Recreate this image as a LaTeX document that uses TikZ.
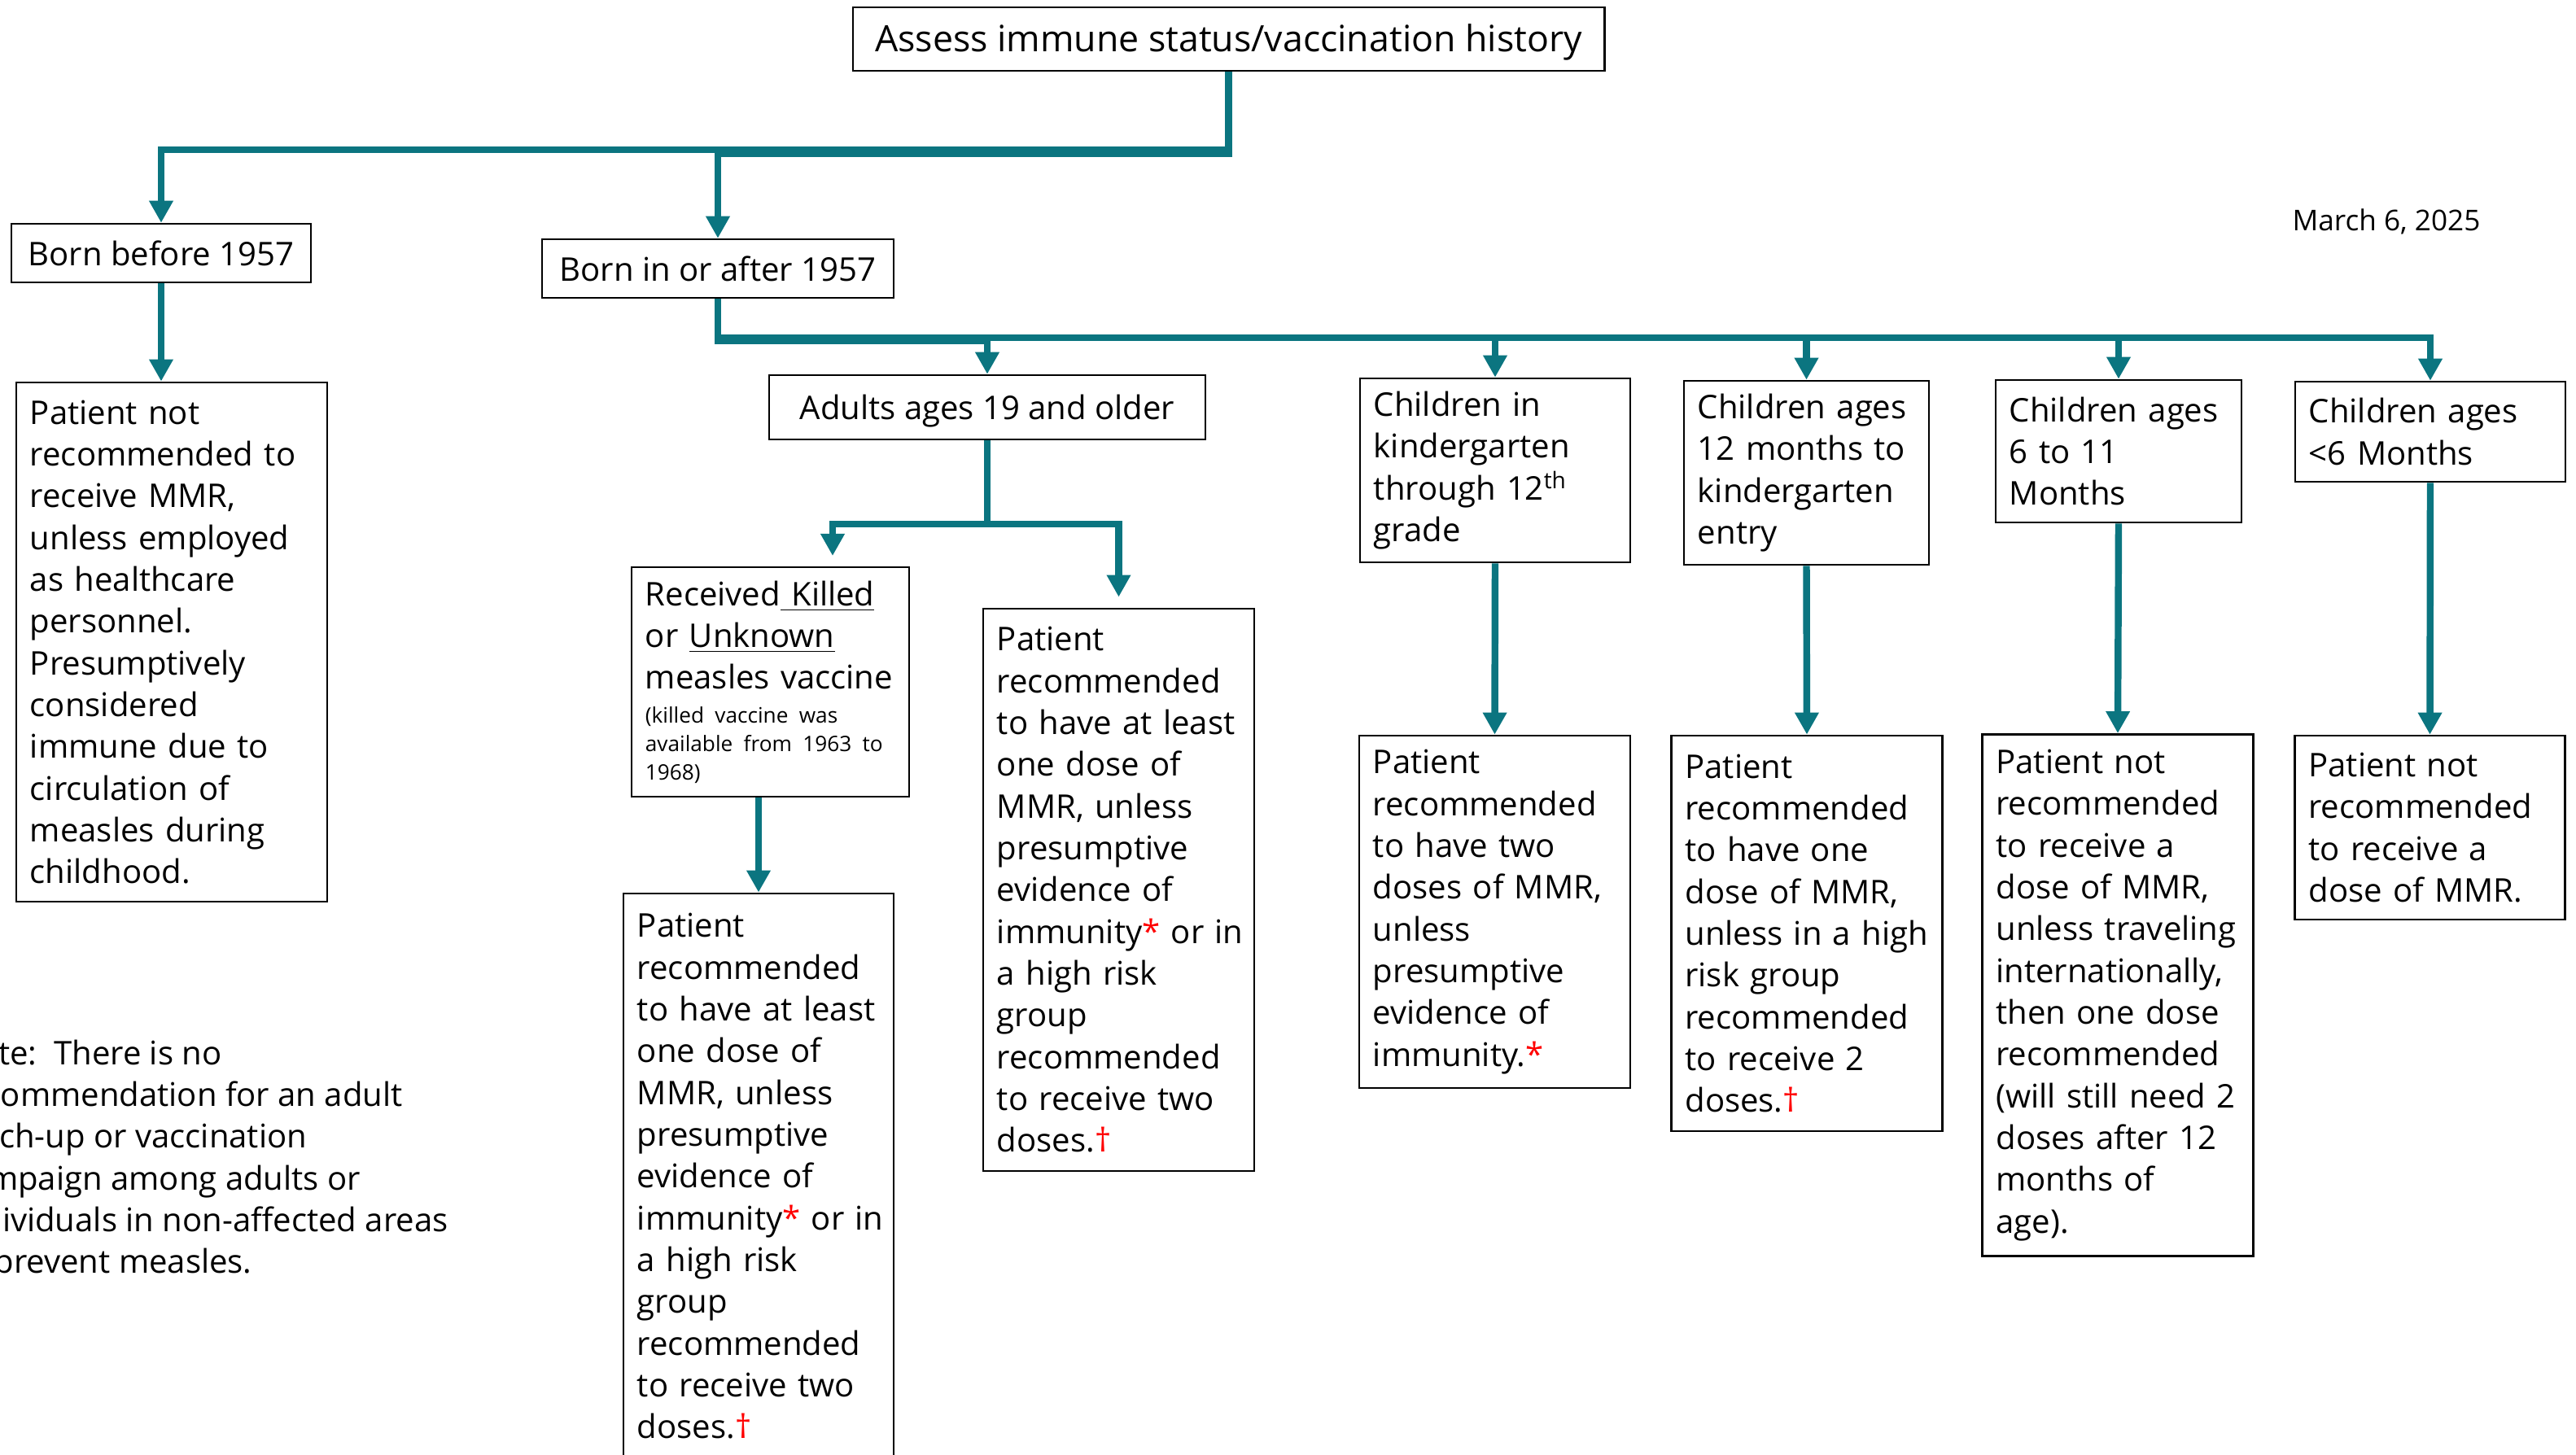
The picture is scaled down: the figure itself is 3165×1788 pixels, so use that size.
\documentclass[tikz,border=0pt]{standalone}
\usepackage{fontspec}
\setmainfont{Open Sans}
\usetikzlibrary{arrows.meta}
\definecolor{conncol}{RGB}{11,117,128}

\begin{document}
\begin{tikzpicture}[x=0.01cm, y=-0.01cm]
		\tikzset{bx/.style={draw=black, line width=0.7pt, inner xsep=0.17cm, inner ysep=0pt, align=left, font=\fontsize{11.4}{14.6}\selectfont},
			hd/.style={bx, align=center, text height=0.86em, text depth=0pt},
			conn/.style={draw=conncol, line width=2.4pt, -{Triangle[length=0.27cm, width=0.28cm]}}}

		\useasboundingbox (0,0) rectangle (3165,1788);
		\clip (0,0) rectangle (3165,1788);

		\node[hd, minimum width=9.23cm, minimum height=0.78cm, font=\fontsize{12.7}{15}\selectfont] (assess) at (1509.5, 48) {Assess immune status/vaccination history};
		\node[hd, minimum width=3.68cm, minimum height=0.72cm] (before57) at (198, 311) {Born before 1957};
		\node[hd, minimum width=4.32cm, minimum height=0.72cm] (after57) at (882, 330) {Born in or after 1957};
		\node[hd, minimum width=5.36cm, minimum height=0.79cm] (adults) at (1213, 500.5) {Adults ages 19 and older};

		\node[bx, text width=3.48cm, minimum height=6.38cm] (notbefore) at (211, 789) {Patient not\\ recommended to\\ receive MMR,\\ unless employed\\ as healthcare\\ personnel.\\ Presumptively\\ considered\\ immune due to\\ circulation of\\ measles during\\ childhood.};
		\node[bx, text width=3.07cm, minimum height=2.82cm] (killed) at (946.5, 838) {Received\underline{\ Killed}\\ or \underline{Unknown}\\ measles vaccine\par\vspace{2pt}{\raggedright\fontsize{7.45}{9.9}\selectfont (killed vaccine was\\ available from 1963 to\\ 1968)\par}};
		\node[bx, text width=2.99cm, minimum height=6.91cm] (adultone) at (1374.5, 1093.5) {Patient\\ recommended\\ to have at least\\ one dose of\\ MMR, unless\\ presumptive\\ evidence of\\ immunity\textcolor{red}{*}~or~in\\ a high risk\\ group\\ recommended\\ to receive two\\ doses.\textcolor{red}{†}};
		\node[bx, text width=2.98cm, minimum height=6.95cm] (killedrec) at (932, 1445.5) {Patient\\ recommended\\ to have at least\\ one dose of\\ MMR, unless\\ presumptive\\ evidence of\\ immunity\textcolor{red}{*}~or~in\\ a high risk\\ group\\ recommended\\ to receive two\\ doses.\textcolor{red}{†}};

		\node[bx, text width=2.98cm, minimum height=2.26cm] (kinder) at (1837, 578) {Children in\\ kindergarten\\ through 12\textsuperscript{th}\\ grade};
		\node[bx, text width=2.67cm, minimum height=2.26cm] (twelve) at (2219.5, 581) {Children ages\\ 12 months to\\ kindergarten\\ entry};
		\node[bx, text width=2.68cm, minimum height=1.75cm] (sixeleven) at (2603, 554.5) {Children ages\\ 6 to 11\\ Months};
		\node[bx, text width=2.98cm, minimum height=1.23cm] (undersix) at (2986, 530.5) {Children ages\\ <6 Months};

		\node[bx, text width=2.99cm, minimum height=4.33cm] (kinderrec) at (1836.5, 1120.5) {Patient\\ recommended\\ to have two\\ doses of MMR,\\ unless\\ presumptive\\ evidence of\\ immunity.\textcolor{red}{*}};
		\node[bx, text width=2.99cm, minimum height=4.86cm] (twelverec) at (2220, 1147) {Patient\\ recommended\\ to have one\\ dose of MMR,\\ unless~in~a~high\\ risk group\\ recommended\\ to receive 2\\ doses.\textcolor{red}{†}};
		\node[bx, text width=2.99cm, minimum height=6.41cm] (sixrec) at (2602, 1223) {Patient not\\ recommended\\ to receive a\\ dose of MMR,\\ unless~traveling\\ internationally,\\ then one dose\\ recommended\\ (will still need 2\\ doses after 12\\ months of\\ age).};
		\node[bx, text width=2.98cm, minimum height=2.26cm] (underrec) at (2985.5, 1017) {Patient not\\ recommended\\ to receive a\\ dose of MMR.};

		\node[align=left, anchor=west, inner sep=0pt, font=\fontsize{11.4}{14.6}\selectfont] (note) at (-57, 1426) {Note:\ \ There is no\\ recommendation for an adult\\ catch-up or vaccination\\ campaign among adults or\\ individuals in non-affected areas\\ to prevent measles.};
		\node[font=\fontsize{10}{12}\selectfont] (date) at (2932, 272) {March 6, 2025};

		\coordinate (killedin) at (1023, 697);

		\draw[conn] (assess.south) -- ++(0,96) -| (before57.north);
		\draw[conn] (assess.south) -- ++(0,101) -| (after57.north);
		\draw[conn] (before57.south) -- (before57.south |- notbefore.north);

		\draw[conn] (after57.south) -- ++(0,52) -| (adults.north);
		\draw[conn] (after57.south) -- ++(0,48) -| (kinder.north);
		\draw[conn] (after57.south) -- ++(0,48) -| (twelve.north);
		\draw[conn] (after57.south) -- ++(0,48) -| (sixeleven.north);
		\draw[conn] (after57.south) -- ++(0,48) -| (undersix.north);

		\draw[conn, shorten >=0.14cm] (adults.south) -- ++(0,103) -| (killedin);
		\draw[conn, shorten >=0.13cm] (adults.south) -- ++(0,103) -| (adultone.north);
		\draw[conn] (killedrec.north |- killed.south) -- (killedrec.north);

		\draw[conn] (kinder.south) -- (kinderrec.north);
		\draw[conn] (twelve.south) -- (twelverec.north);
		\draw[conn] (sixeleven.south) -- (sixrec.north);
		\draw[conn] (undersix.south) -- (underrec.north);

	\end{tikzpicture}
\end{document}
